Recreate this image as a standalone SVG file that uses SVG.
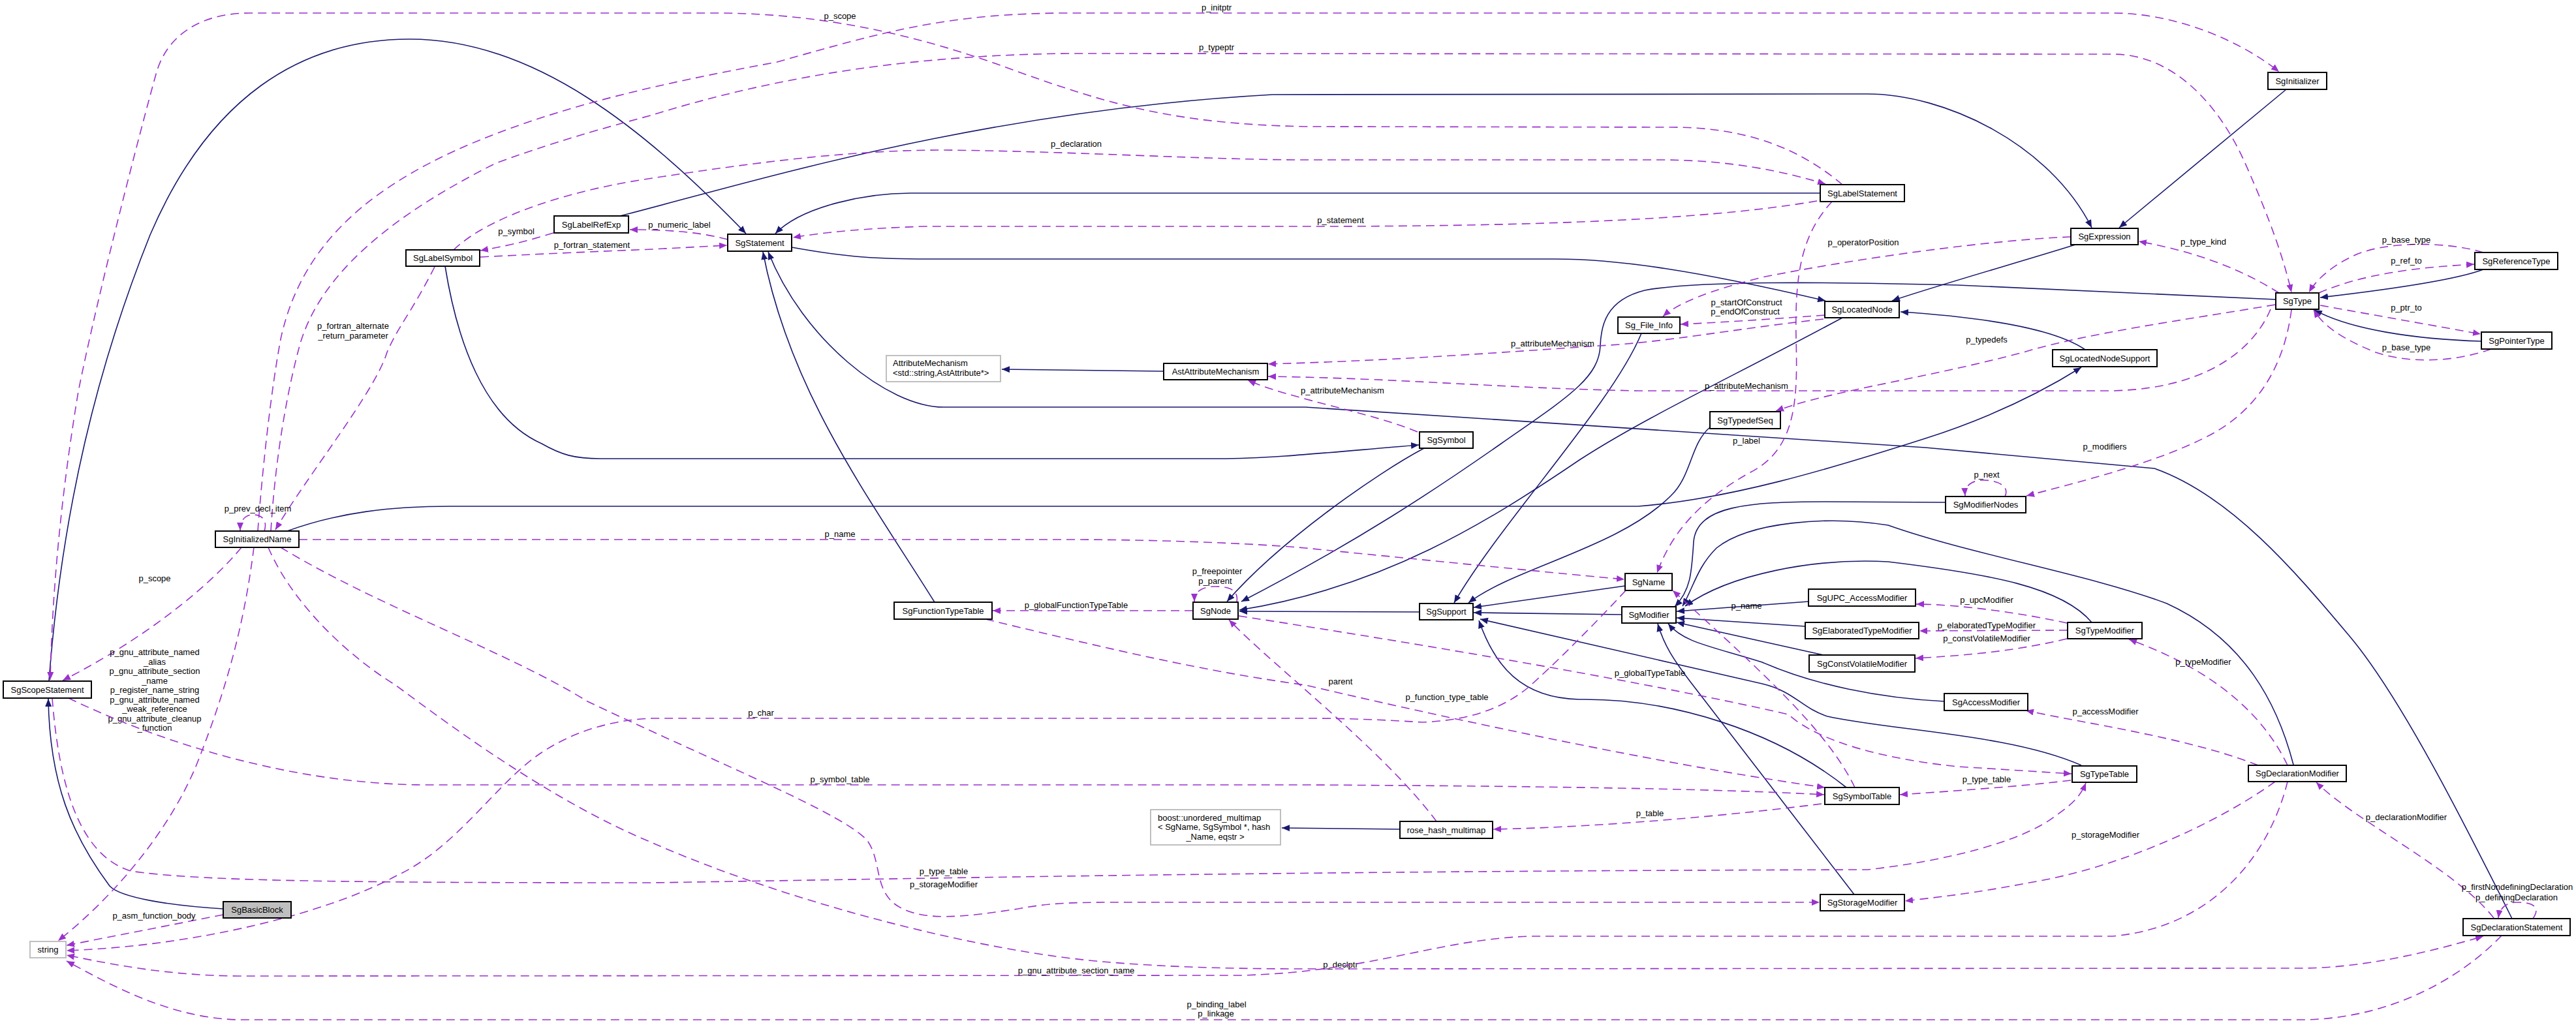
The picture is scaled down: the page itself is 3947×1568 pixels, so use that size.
<svg xmlns="http://www.w3.org/2000/svg" width="3947" height="1568" viewBox="0 0 3947 1568">
<style>
text{font-family:"Liberation Sans",Arial,Helvetica,sans-serif;font-size:13px;fill:#000}
.nd rect{fill:#fff;stroke:#000;stroke-width:2}
.ex rect{fill:#fff;stroke:#bfbfbf;stroke-width:2}
.hl rect{fill:#bfbfbf;stroke:#000;stroke-width:2}
.nd text,.hl text,.ex .c{text-anchor:middle}
.i{fill:none;stroke:#191970;stroke-width:1.6;marker-end:url(#ai)}
.u{fill:none;stroke:#9a32cd;stroke-width:1.6;stroke-dasharray:13,8;marker-end:url(#au)}
.l{text-anchor:middle}
</style>
<defs>
<marker id="ai" viewBox="0 0 12 10" refX="12" refY="5" markerWidth="12" markerHeight="10" markerUnits="userSpaceOnUse" orient="auto"><path d="M0,0L12,5L0,10z" fill="#191970"/></marker>
<marker id="au" viewBox="0 0 12 10" refX="12" refY="5" markerWidth="12" markerHeight="10" markerUnits="userSpaceOnUse" orient="auto"><path d="M0,0L12,5L0,10z" fill="#9a32cd"/></marker>
</defs>
<rect width="3947" height="1568" fill="#fff"/>
<g id="edges">
<!-- inheritance -->
<path class="i" d="M342,1393 C260,1388 185,1376 168,1358 C110,1280 76,1200 74,1071"/>
<path class="i" d="M75,1044 C95,780 150,560 230,360 C320,150 460,60 628,60 C820,60 990,200 1143,358"/>
<path class="i" d="M2789,296 L1395,296 C1330,296 1230,315 1188,358"/>
<path class="i" d="M1213,379 C1300,395 1350,397 1421,397 L2383,397 C2480,397 2600,415 2797,461"/>
<path class="i" d="M3180,375 C3100,400 2960,440 2899,461"/>
<path class="i" d="M950,331 C1150,280 1500,170 1950,145 L2861,144 C2980,144 3140,220 3205,349"/>
<path class="i" d="M3503,137 L3247,349"/>
<path class="i" d="M3195,536 C3150,505 3050,487 2912,478"/>
<path class="i" d="M3805,413 C3760,430 3650,445 3555,456"/>
<path class="i" d="M3802,523 C3700,520 3600,505 3546,475"/>
<path class="i" d="M3487,459 L3000,437 C2800,432 2600,430 2520,445 C2460,460 2453,500 2452,530 C2450,580 2400,610 2300,680 C2200,750 2080,830 1902,922"/>
<path class="i" d="M2823,487 C2650,580 2520,640 2420,705 C2280,800 2120,900 1899,935"/>
<path class="i" d="M2175,938 L1899,937"/>
<path class="i" d="M2182,687 C2110,725 1960,830 1880,922"/>
<path class="i" d="M682,408 C700,520 740,640 830,680 C860,697 880,703 920,703 L1867,703 C1950,703 2050,692 2174,682"/>
<path class="i" d="M440,814 C520,785 600,776 690,776 L2510,776 C2650,765 2800,720 2950,672 C3050,640 3130,600 3189,563"/>
<path class="i" d="M1432,923 C1330,760 1210,600 1169,386"/>
<path class="i" d="M3849,1408 C3780,1270 3680,1070 3600,975 C3520,880 3420,760 3301,718 L2950,686 L2000,624 L1446,624 C1360,624 1230,520 1177,386"/>
<path class="i" d="M2981,770 L2797,769 C2680,769 2600,775 2595,830 C2592,880 2590,905 2566,930"/>
<path class="i" d="M3514,1172 C3490,1080 3440,980 3320,925 C3200,880 3020,850 2893,805 C2800,790 2680,800 2630,840 C2600,870 2595,900 2578,929"/>
<path class="i" d="M3205,954 C3160,900 3050,880 2893,861 C2780,855 2650,880 2582,929"/>
<path class="i" d="M2771,922 L2569,937"/>
<path class="i" d="M2766,960 L2569,947"/>
<path class="i" d="M2794,1004 L2569,954"/>
<path class="i" d="M2979,1075 C2880,1070 2780,1050 2700,1015 C2620,990 2580,985 2556,956"/>
<path class="i" d="M2841,1371 L2590,1045 C2565,1012 2550,990 2540,956"/>
<path class="i" d="M2485,942 L2258,939"/>
<path class="i" d="M2490,898 L2258,931"/>
<path class="i" d="M2515,511 C2470,620 2300,800 2228,924"/>
<path class="i" d="M2620,655 C2590,680 2592,730 2560,760 C2480,840 2320,870 2250,924"/>
<path class="i" d="M2829,1207 C2720,1120 2560,1070 2420,1072 C2330,1070 2290,1020 2266,951"/>
<path class="i" d="M3189,1173 C3080,1125 2900,1120 2800,1098 C2760,1085 2750,1060 2700,1048 L2268,949"/>
<path class="i" d="M1783,569 L1535,566"/>
<path class="i" d="M2145,1271 L1964,1269"/>
<!-- usage -->
<path class="u" d="M2823,283 C2760,230 2680,195 2561,195 L2000,194 C1800,190 1700,160 1560,110 C1400,50 1250,20 1096,20 L383,20 C300,20 255,60 240,110 C215,200 150,450 120,600 C95,750 80,900 77,1042"/>
<text class="l" x="1287" y="29">p_scope</text>
<path class="u" d="M395,814 C402,720 415,600 430,520 C460,380 560,280 765,203 C880,160 1000,130 1191,95 C1350,50 1450,20 1638,20 L3237,20 C3330,20 3430,60 3492,110"/>
<text class="l" x="1864" y="16">p_initptr</text>
<path class="u" d="M415,814 C422,700 440,600 459,530 C490,420 600,330 760,250 C870,210 950,190 1000,176 C1150,130 1350,85 1638,82 L3237,83 C3330,83 3400,160 3440,250 C3480,340 3500,400 3511,448"/>
<text class="l" x="1864" y="77">p_typeptr</text>
<path class="u" d="M666,409 C630,480 610,500 593,540 C575,600 470,730 422,812"/>
<text class="l" x="541" y="504">p_fortran_alternate</text>
<text class="l" x="541" y="519">_return_parameter</text>
<path class="u" d="M405,814 C410,798 402,789 388,789 C375,789 368,798 368,813"/>
<text class="l" x="395" y="784">p_prev_decl_item</text>
<path class="u" d="M695,383 C750,330 880,290 1000,273 C1150,250 1300,230 1446,230 C1650,232 1850,245 2000,245 L2542,245 C2650,245 2730,262 2797,282"/>
<text class="l" x="1649" y="225">p_declaration</text>
<path class="u" d="M2784,308 C2600,340 2300,347 2000,347 L1415,347 C1330,350 1270,355 1215,364"/>
<text class="l" x="2054" y="342">p_statement</text>
<path class="u" d="M1115,367 C1080,358 1040,352 965,352"/>
<text class="l" x="1041" y="349">p_numeric_label</text>
<path class="u" d="M736,394 C850,388 950,384 1000,382 L1114,376"/>
<text class="l" x="907" y="380">p_fortran_statement</text>
<path class="u" d="M848,357 C800,372 770,378 736,384"/>
<text class="l" x="791" y="359">p_symbol</text>
<path class="u" d="M370,839 C320,900 220,980 96,1043"/>
<text class="l" x="237" y="891">p_scope</text>
<path class="u" d="M389,839 C375,950 350,1050 300,1175 C260,1270 180,1370 89,1442"/>
<text class="l" x="237" y="1004">p_gnu_attribute_named</text>
<text class="l" x="237" y="1018.5">_alias</text>
<text class="l" x="237" y="1033">p_gnu_attribute_section</text>
<text class="l" x="237" y="1047.5">_name</text>
<text class="l" x="237" y="1062">p_register_name_string</text>
<text class="l" x="237" y="1076.5">p_gnu_attribute_named</text>
<text class="l" x="237" y="1091">_weak_reference</text>
<text class="l" x="237" y="1105.5">p_gnu_attribute_cleanup</text>
<text class="l" x="237" y="1120">_function</text>
<path class="u" d="M458,827 L1638,827 C1800,827 1950,835 2000,840 C2200,860 2400,880 2489,888"/>
<text class="l" x="1287" y="823">p_name</text>
<path class="u" d="M411,839 C450,930 540,1010 606,1050 C700,1120 850,1230 1000,1292 C1200,1380 1500,1460 1702,1475 C1800,1483 1900,1485 2000,1485 L3524,1484 C3620,1484 3720,1460 3805,1435"/>
<text class="l" x="2054" y="1483">p_declptr</text>
<path class="u" d="M430,839 C580,930 780,1000 900,1075 C1100,1170 1300,1250 1330,1290 C1350,1320 1340,1360 1370,1385 C1410,1415 1480,1405 1560,1393 C1600,1385 1640,1383 1700,1383 L2788,1383"/>
<text class="l" x="1446" y="1360">p_storageModifier</text>
<path class="u" d="M2491,905 C2440,960 2380,1020 2340,1055 C2290,1095 2230,1105 2179,1107 C2100,1102 2050,1101 2000,1101 L1000,1101 C940,1103 880,1120 829,1154 C760,1200 700,1300 606,1343 C500,1400 300,1450 102,1457"/>
<text class="l" x="1166" y="1097">p_char</text>
<path class="u" d="M105,1070 C250,1140 450,1202 650,1203 L2000,1203 C2400,1205 2650,1210 2795,1218"/>
<text class="l" x="1287" y="1199">p_symbol_table</text>
<path class="u" d="M80,1070 C90,1200 120,1310 200,1335 C300,1350 500,1353 1000,1353 C1500,1345 2000,1335 2861,1333 C2980,1320 3100,1290 3150,1250 C3180,1230 3190,1215 3196,1200"/>
<text class="l" x="1446" y="1340">p_type_table</text>
<path class="u" d="M342,1402 L102,1449"/>
<text class="l" x="236" y="1408">p_asm_function_body</text>
<path class="u" d="M3505,1198 C3480,1300 3400,1420 3237,1435 L2344,1435 C2200,1440 2100,1490 1900,1495 L364,1496 C260,1495 180,1480 102,1464"/>
<text class="l" x="1649" y="1492">p_gnu_attribute_section_name</text>
<path class="u" d="M3833,1434 C3770,1500 3660,1563 3524,1563 L364,1563 C260,1560 170,1510 102,1473"/>
<text class="l" x="1864" y="1544">p_binding_label</text>
<text class="l" x="1863" y="1558">p_linkage</text>
<path class="u" d="M3486,1198 C3400,1260 3250,1330 3109,1353 C3020,1370 2970,1375 2919,1381"/>
<text class="l" x="3226" y="1284">p_storageModifier</text>
<path class="u" d="M3460,1173 C3350,1130 3200,1110 3104,1089"/>
<text class="l" x="3226" y="1095">p_accessModifier</text>
<path class="u" d="M3505,1173 C3470,1100 3400,1030 3262,980"/>
<text class="l" x="3376" y="1019">p_typeModifier</text>
<path class="u" d="M3821,1407 C3760,1330 3610,1260 3549,1199"/>
<text class="l" x="3687" y="1257">p_declarationModifier</text>
<path class="u" d="M3881,1408 C3892,1392 3885,1383 3856,1383 C3840,1383 3830,1392 3828,1407"/>
<text class="l" x="3857" y="1364">p_firstNondefiningDeclaration</text>
<text class="l" x="3856" y="1380">p_definingDeclaration</text>
<path class="u" d="M3167,955 C3100,940 3000,926 2936,926"/>
<text class="l" x="3044" y="924">p_upcModifier</text>
<path class="u" d="M3168,966 L2941,967"/>
<text class="l" x="3044" y="963">p_elaboratedTypeModifier</text>
<path class="u" d="M3167,979 C3080,1000 3000,1005 2935,1009"/>
<text class="l" x="3044" y="983">p_constVolatileModifier</text>
<path class="u" d="M3511,475 C3500,560 3460,630 3380,670 C3300,710 3200,735 3105,760"/>
<text class="l" x="3225" y="689">p_modifiers</text>
<path class="u" d="M3072,761 C3080,745 3060,736 3040,736 C3020,736 3010,745 3011,760"/>
<text class="l" x="3044" y="732">p_next</text>
<path class="u" d="M3492,449 C3430,410 3360,385 3277,370"/>
<text class="l" x="3376" y="375">p_type_kind</text>
<path class="u" d="M3805,387 C3750,370 3650,368 3600,395 C3570,410 3548,430 3538,448"/>
<text class="l" x="3687" y="372">p_base_type</text>
<path class="u" d="M3553,449 C3620,420 3700,410 3791,405"/>
<text class="l" x="3687" y="404">p_ref_to</text>
<path class="u" d="M3555,468 L3801,512"/>
<text class="l" x="3687" y="476">p_ptr_to</text>
<path class="u" d="M3817,535 C3770,552 3700,560 3640,540 C3590,520 3560,500 3545,475"/>
<text class="l" x="3687" y="537">p_base_type</text>
<path class="u" d="M3486,467 C3350,490 3200,510 3100,540 C2950,580 2800,600 2721,630"/>
<text class="l" x="3044" y="525">p_typedefs</text>
<path class="u" d="M3479,474 C3460,520 3400,595 3237,599 L2510,599 C2300,595 2150,580 1943,577"/>
<text class="l" x="2676" y="596">p_attributeMechanism</text>
<path class="u" d="M2794,489 C2650,505 2550,525 2450,530 C2300,540 2150,552 1943,558"/>
<text class="l" x="2379" y="531">p_attributeMechanism</text>
<path class="u" d="M2172,662 C2100,632 1980,612 1912,583"/>
<text class="l" x="2057" y="603">p_attributeMechanism</text>
<path class="u" d="M2796,483 C2700,490 2640,494 2575,497"/>
<text class="l" x="2676" y="468">p_startOfConstruct</text>
<text class="l" x="2674" y="482">p_endOfConstruct</text>
<path class="u" d="M3173,363 C3050,368 2850,395 2700,425 C2620,445 2570,465 2548,485"/>
<text class="l" x="2855" y="376">p_operatorPosition</text>
<path class="u" d="M2807,309 C2760,360 2750,420 2752,520 C2755,620 2750,690 2680,725 C2600,770 2560,820 2539,878"/>
<text class="l" x="2676" y="680">p_label</text>
<path class="u" d="M1895,923 C1898,905 1885,899 1862,899 C1840,899 1830,908 1830,922"/>
<text class="l" x="1865" y="880">p_freepointer</text>
<text class="l" x="1862" y="895">p_parent</text>
<path class="u" d="M1828,936 L1521,936"/>
<text class="l" x="1649" y="932">p_globalFunctionTypeTable</text>
<path class="u" d="M1510,949 C1700,995 1850,1030 2000,1050 C2300,1120 2600,1180 2796,1207"/>
<text class="l" x="2217" y="1073">p_function_type_table</text>
<path class="u" d="M2201,1259 C2120,1150 1950,1020 1883,950"/>
<text class="l" x="2054" y="1049">parent</text>
<path class="u" d="M2791,1232 C2650,1250 2450,1268 2288,1271"/>
<text class="l" x="2528" y="1251">p_table</text>
<path class="u" d="M1898,944 C2100,975 2500,1040 2740,1095 C2790,1140 2900,1165 3000,1175 L3174,1186"/>
<text class="l" x="2528" y="1036">p_globalTypeTable</text>
<path class="u" d="M2842,1207 C2800,1120 2700,1030 2563,905"/>
<text class="l" x="2676" y="933">p_name</text>
<path class="u" d="M3173,1196 C3100,1205 3000,1212 2911,1218"/>
<text class="l" x="3044" y="1199">p_type_table</text>
</g>
<g id="SgBasicBlock" class="hl"><rect x="342" y="1382" width="104" height="25"/><text x="394" y="1399">SgBasicBlock</text></g>
<g id="SgScopeStatement" class="nd"><rect x="5" y="1044" width="135" height="26"/><text x="72.5" y="1061.5">SgScopeStatement</text></g>
<g id="string" class="ex"><rect x="46" y="1443" width="55" height="25"/><text class="c" x="73.5" y="1460">string</text></g>
<g id="SgStatement" class="nd"><rect x="1115" y="359" width="98" height="26"/><text x="1164" y="376.5">SgStatement</text></g>
<g id="SgLabelRefExp" class="nd"><rect x="849" y="331" width="114" height="26"/><text x="906" y="348.5">SgLabelRefExp</text></g>
<g id="SgLabelSymbol" class="nd"><rect x="622" y="383" width="113" height="25"/><text x="678.5" y="400">SgLabelSymbol</text></g>
<g id="SgLabelStatement" class="nd"><rect x="2789" y="283" width="129" height="26"/><text x="2853.5" y="300.5">SgLabelStatement</text></g>
<g id="SgLocatedNode" class="nd"><rect x="2796" y="462" width="114" height="25"/><text x="2853" y="479">SgLocatedNode</text></g>
<g id="Sg_File_Info" class="nd"><rect x="2479" y="486" width="95" height="25"/><text x="2526.5" y="503">Sg_File_Info</text></g>
<g id="SgInitializer" class="nd"><rect x="3475" y="111" width="90" height="26"/><text x="3520" y="128.5">SgInitializer</text></g>
<g id="SgExpression" class="nd"><rect x="3173" y="350" width="103" height="25"/><text x="3224.5" y="367">SgExpression</text></g>
<g id="SgType" class="nd"><rect x="3487" y="449" width="66" height="25"/><text x="3520" y="466">SgType</text></g>
<g id="SgReferenceType" class="nd"><rect x="3792" y="387" width="127" height="26"/><text x="3855.5" y="404.5">SgReferenceType</text></g>
<g id="SgPointerType" class="nd"><rect x="3802" y="509" width="108" height="26"/><text x="3856" y="526.5">SgPointerType</text></g>
<g id="SgInitializedName" class="nd"><rect x="330" y="814" width="128" height="25"/><text x="394" y="831">SgInitializedName</text></g>
<g id="AttributeMechanism" class="ex"><rect x="1358" y="545" width="175" height="40"/><text x="1368" y="561">AttributeMechanism</text><text x="1368" y="576">&lt;std::string,AstAttribute*&gt;</text></g>
<g id="AstAttributeMechanism" class="nd"><rect x="1783" y="557" width="159" height="25"/><text x="1862.5" y="574">AstAttributeMechanism</text></g>
<g id="SgFunctionTypeTable" class="nd"><rect x="1370" y="923" width="150" height="26"/><text x="1445" y="940.5">SgFunctionTypeTable</text></g>
<g id="SgNode" class="nd"><rect x="1828" y="923" width="69" height="26"/><text x="1862.5" y="940.5">SgNode</text></g>
<g id="SgSymbol" class="nd"><rect x="2175" y="662" width="82" height="25"/><text x="2216" y="679">SgSymbol</text></g>
<g id="SgTypedefSeq" class="nd"><rect x="2620" y="631" width="108" height="26"/><text x="2674" y="648.5">SgTypedefSeq</text></g>
<g id="SgName" class="nd"><rect x="2490" y="879" width="72" height="26"/><text x="2526" y="896.5">SgName</text></g>
<g id="SgSupport" class="nd"><rect x="2175" y="925" width="82" height="25"/><text x="2216" y="942">SgSupport</text></g>
<g id="SgModifier" class="nd"><rect x="2485" y="930" width="83" height="25"/><text x="2526.5" y="947">SgModifier</text></g>
<g id="SgUPC_AccessModifier" class="nd"><rect x="2771" y="903" width="164" height="26"/><text x="2853" y="920.5">SgUPC_AccessModifier</text></g>
<g id="SgElaboratedTypeModifier" class="nd"><rect x="2766" y="954" width="174" height="25"/><text x="2853" y="971">SgElaboratedTypeModifier</text></g>
<g id="SgConstVolatileModifier" class="nd"><rect x="2772" y="1004" width="162" height="26"/><text x="2853" y="1021.5">SgConstVolatileModifier</text></g>
<g id="SgModifierNodes" class="nd"><rect x="2981" y="761" width="123" height="25"/><text x="3042.5" y="778">SgModifierNodes</text></g>
<g id="SgLocatedNodeSupport" class="nd"><rect x="3145" y="536" width="160" height="26"/><text x="3225" y="553.5">SgLocatedNodeSupport</text></g>
<g id="SgTypeModifier" class="nd"><rect x="3168" y="954" width="114" height="25"/><text x="3225" y="971">SgTypeModifier</text></g>
<g id="boost_unordered_multimap" class="ex"><rect x="1763" y="1241" width="199" height="54"/><text x="1774" y="1258">boost::unordered_multimap</text><text x="1774" y="1272">&lt; SgName, SgSymbol *, hash</text><text class="c" x="1862" y="1287">_Name, eqstr &gt;</text></g>
<g id="rose_hash_multimap" class="nd"><rect x="2145" y="1259" width="142" height="26"/><text x="2216" y="1276.5">rose_hash_multimap</text></g>
<g id="SgSymbolTable" class="nd"><rect x="2796" y="1207" width="114" height="26"/><text x="2853" y="1224.5">SgSymbolTable</text></g>
<g id="SgStorageModifier" class="nd"><rect x="2789" y="1371" width="129" height="25"/><text x="2853.5" y="1388">SgStorageModifier</text></g>
<g id="SgAccessModifier" class="nd"><rect x="2979" y="1063" width="128" height="26"/><text x="3043" y="1080.5">SgAccessModifier</text></g>
<g id="SgTypeTable" class="nd"><rect x="3175" y="1174" width="99" height="25"/><text x="3224.5" y="1191">SgTypeTable</text></g>
<g id="SgDeclarationModifier" class="nd"><rect x="3445" y="1173" width="150" height="25"/><text x="3520" y="1190">SgDeclarationModifier</text></g>
<g id="SgDeclarationStatement" class="nd"><rect x="3774" y="1408" width="164" height="26"/><text x="3856" y="1425.5">SgDeclarationStatement</text></g>
</svg>
